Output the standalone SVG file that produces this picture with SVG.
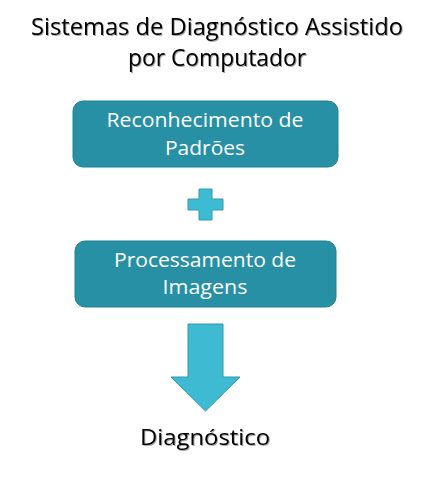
<svg xmlns="http://www.w3.org/2000/svg" width="428" height="477" viewBox="0 0 428 477">
<defs>
<filter id="sh" x="-5%" y="-20%" width="110%" height="140%"><feDropShadow dx="1" dy="1" stdDeviation="0.6" flood-color="#000" flood-opacity="0.35"/></filter>
</defs>
<style>
.t{font-family:"Open Sans","Liberation Sans",sans-serif;fill:#000;font-size:24px;text-anchor:middle}
.d{font-size:22px}
.w{font-family:"Open Sans","Liberation Sans",sans-serif;fill:#fff;font-size:20px;text-anchor:middle}
.box{fill:#2790A5;stroke:#1E8290;stroke-width:1}
.sym{fill:#3EBAD3;stroke:#2C9AB0;stroke-width:1}
</style>
<rect width="428" height="477" fill="#fff"/>
<g id="title" filter="url(#sh)">
<text class="t" x="217" y="35" textLength="372" lengthAdjust="spacingAndGlyphs">Sistemas de Diagnóstico Assistido</text>
<text class="t" x="217" y="66" textLength="178" lengthAdjust="spacingAndGlyphs">por Computador</text>
</g>
<g id="node-reconhecimento">
<rect class="box" x="73" y="101" width="265" height="66" rx="10"/>
<text class="w" x="205" y="127" textLength="197" lengthAdjust="spacingAndGlyphs">Reconhecimento de</text>
<text class="w" x="205" y="155" textLength="80" lengthAdjust="spacingAndGlyphs">Padrões</text>
</g>
<g id="node-plus">
<path class="sym" d="M199,189 H212 V199 H223 V210 H212 V220 H199 V210 H188 V199 H199 Z"/>
</g>
<g id="node-processamento">
<rect class="box" x="75" y="241" width="261" height="66" rx="10"/>
<text class="w" x="205" y="267" textLength="182" lengthAdjust="spacingAndGlyphs">Processamento de</text>
<text class="w" x="205" y="294" textLength="85" lengthAdjust="spacingAndGlyphs">Imagens</text>
</g>
<g id="connectors">
<path class="sym" d="M188,324 H223 V377 H240 L205.5,411 L171,377 H188 Z"/>
</g>
<g id="node-diagnostico" filter="url(#sh)">
<text class="t d" x="205" y="445" textLength="130" lengthAdjust="spacingAndGlyphs">Diagnóstico</text>
</g>
</svg>
